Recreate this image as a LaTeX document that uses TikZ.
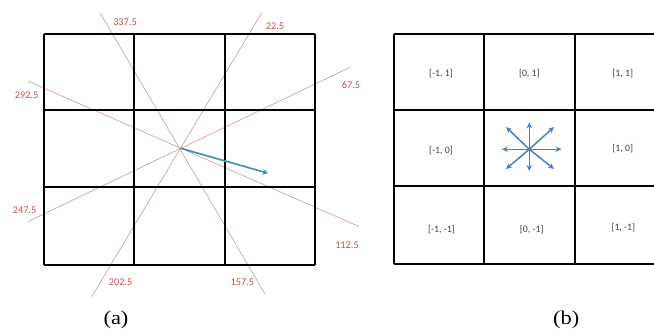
\documentclass[tikz,border=0pt]{standalone}
\usepackage{fontspec}
\setmainfont{Liberation Serif}
\newfontfamily\calib{Carlito}
\usetikzlibrary{arrows.meta}
\definecolor{gridred}{HTML}{CFA4A4}
\definecolor{labred}{HTML}{C0504D}
\definecolor{tealarrow}{HTML}{3F97AD}
\definecolor{starblue}{HTML}{4F7FB8}
\begin{document}
\begin{tikzpicture}[x=1pt,y=-1pt,
  gridline/.style={line width=1.8pt, black},
  ray/.style={gridred, line width=0.7pt},
  anglab/.style={text=labred, font=\calib\fontsize{10.3}{11}\selectfont, inner sep=0},
  celllab/.style={text=black!75, font=\calib\fontsize{9.8}{11}\selectfont, inner sep=0},
  sublab/.style={font=\fontsize{19.5}{21}\selectfont, inner sep=0, xscale=1.15},
  dirarrow/.style={tealarrow, line width=1.7pt, -{Stealth[length=6pt,width=6pt]}},
  stararrow/.style={starblue, line width=1.5pt, -{Stealth[length=6pt,width=5.5pt]}}]
\useasboundingbox (0,0) rectangle (654,336);

% ---------- (a) ----------
\coordinate (c) at (180.7,148.3);
\coordinate (r1a) at (100,12.7);   \coordinate (r1b) at (265,294);
\coordinate (r2a) at (261.7,12.7); \coordinate (r2b) at (91.7,296.7);
\coordinate (r3a) at (27.7,81);    \coordinate (r3b) at (359,226.5);
\coordinate (r4a) at (350,67.3);   \coordinate (r4b) at (27.7,221.7);
\draw[ray] (r1a) -- (r1b);
\draw[ray] (r2a) -- (r2b);
\draw[ray] (r3a) -- (r3b);
\draw[ray] (r4a) -- (r4b);

\foreach \x in {44.3,134,224.7,315} \draw[gridline] (\x,33.7) -- (\x,265.3);
\foreach \y in {33.7,110,187.3,265.3} \draw[gridline] (44.3,\y) -- (315,\y);

\coordinate (tip) at (268.3,173.3);
\draw[dirarrow] (c) -- (tip);

\node[anglab] (l3375) at (125,22.7) {337.5};
\node[anglab] (l225)  at (275,26) {22.5};
\node[anglab] (l2925) at (26.7,95.7) {292.5};
\node[anglab] (l675)  at (351,85) {67.5};
\node[anglab] (l2475) at (24.7,210) {247.5};
\node[anglab] (l1125) at (347,245) {112.5};
\node[anglab] (l2025) at (120.7,282.7) {202.5};
\node[anglab] (l1575) at (242.3,282.7) {157.5};
\node[sublab] (suba) at (116,320) {(a)};

% ---------- (b) ----------
\foreach \x in {394,484.3,574.7} \draw[gridline] (\x,34) -- (\x,264.3);
\foreach \y in {34,110,186,264.3} \draw[gridline] (394,\y) -- (656,\y);

\node[celllab] (mm) at (441.5,230) {[-1, -1]};
\node[celllab] (zm) at (531.7,230) {[0, -1]};
\node[celllab] (pm) at (623.3,228) {[1, -1]};
\node[celllab] (mz) at (441,150.7) {[-1, 0]};
\node[celllab] (pz) at (622.7,148.3) {[1, 0]};
\node[celllab] (mp) at (441,73.3) {[-1, 1]};
\node[celllab] (zp) at (529.3,73.3) {[0, 1]};
\node[celllab] (pp) at (622.7,73.3) {[1, 1]};

\coordinate (s) at (529.3,149.3);
\coordinate (sN) at (529.3,122.5);
\coordinate (sS) at (529.3,171);
\coordinate (sW) at (502,149.3);
\coordinate (sE) at (561.5,149.3);
\coordinate (sNE) at (554,127);
\coordinate (sNW) at (506,127);
\coordinate (sSW) at (506,169);
\coordinate (sSE) at (554,169);
\foreach \t in {sN,sS,sW,sE,sNE,sNW,sSW,sSE} \draw[stararrow] (s) -- (\t);
\fill[starblue] (s) circle (1.8pt);

\node[sublab] (subb) at (566.3,320) {(b)};
\end{tikzpicture}
\end{document}
